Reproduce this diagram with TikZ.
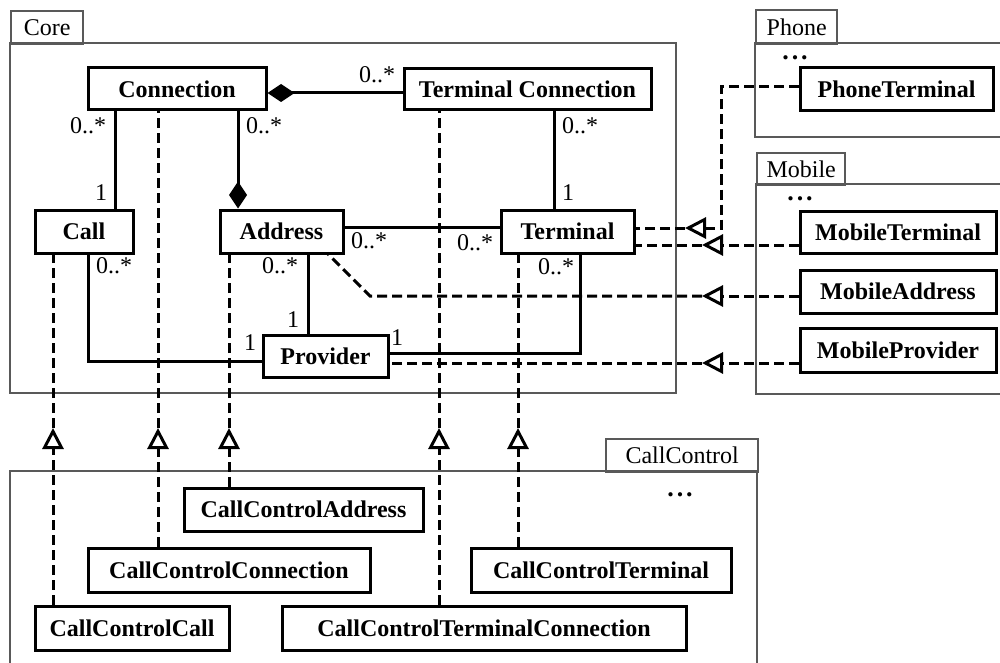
\documentclass[tikz,border=0pt]{standalone}
\usepackage{fontspec}
\setmainfont{Liberation Serif}
\usetikzlibrary{arrows.meta}
\begin{document}
\begin{tikzpicture}[x=1pt,y=-1pt,
  cls/.style={draw, line width=3pt, fill=white, inner sep=0pt, font=\fontsize{24}{28}\selectfont\bfseries},
  assoc/.style={line width=3pt},
  real/.style={line width=3pt, dash pattern=on 10pt off 5pt},
  tri/.style={-{Triangle[open,length=21pt,width=21pt,line width=3pt]}},
  comp/.style={-{Diamond[length=27pt,width=18pt]}},
  mult/.style={inner sep=0pt, font=\fontsize{24}{28}\selectfont},
  pkg/.style={draw=black!65, line width=2.4pt},
  pkgtab/.style={pkg, inner sep=0pt, anchor=north west, font=\fontsize{24}{28}\selectfont},
  dots/.style={inner sep=0pt, font=\fontsize{26}{28}\selectfont\bfseries}
]
\useasboundingbox (0,0) rectangle (1000,663);
\clip (0,0) rectangle (1000,663);

% packages
\draw[pkg] (10,43) rectangle (676,393);
\node[pkgtab, minimum width=72pt, minimum height=33pt] (tcore) at (10,10) {Core};
\draw[pkg] (755,43) rectangle (1010,137);
\node[pkgtab, minimum width=81pt, minimum height=34pt] (tphone) at (755,9) {Phone};
\draw[pkg] (756,184) rectangle (1010,394);
\node[pkgtab, minimum width=88pt, minimum height=32pt] (tmobile) at (756,152) {Mobile};
\draw[pkg] (10,471) rectangle (757,680);
\node[pkgtab, minimum width=152pt, minimum height=33pt] (tcc) at (605,438) {CallControl};

\node[dots] (d1) at (795,58) {.\kern3pt.\kern3pt.};
\node[dots] (d2) at (800,199) {.\kern3pt.\kern3pt.};
\node[dots] (d3) at (680,495) {.\kern3pt.\kern3pt.};

% classes
\node[cls, minimum width=178pt, minimum height=42pt] (conn) at (177,89) {Connection};
\node[cls, minimum width=247pt, minimum height=41pt] (tconn) at (527.5,89) {Terminal Connection};
\node[cls, minimum width=98pt, minimum height=43pt] (call) at (84,231.5) {Call};
\node[cls, minimum width=123pt, minimum height=43pt] (addr) at (281.5,231.5) {Address};
\node[cls, minimum width=133pt, minimum height=43pt] (term) at (567.5,231.5) {Terminal};
\node[cls, minimum width=125pt, minimum height=42pt] (prov) at (325.5,356) {Provider};
\node[cls, minimum width=193pt, minimum height=43pt] (pterm) at (896.5,89.5) {PhoneTerminal};
\node[cls, minimum width=196pt, minimum height=42pt] (mterm) at (898,232) {MobileTerminal};
\node[cls, minimum width=196pt, minimum height=43pt] (maddr) at (898,291.5) {MobileAddress};
\node[cls, minimum width=196pt, minimum height=44pt] (mprov) at (898,350) {MobileProvider};
\node[cls, minimum width=239pt, minimum height=43pt] (ccaddr) at (303.5,509.5) {CallControlAddress};
\node[cls, minimum width=282pt, minimum height=44pt] (ccconn) at (229,570) {CallControlConnection};
\node[cls, minimum width=194pt, minimum height=44pt] (cccall) at (132,628) {CallControlCall};
\node[cls, minimum width=404pt, minimum height=44pt] (cctc) at (484,628) {CallControlTerminalConnection};
\node[cls, minimum width=260pt, minimum height=44pt] (ccterm) at (601,570) {CallControlTerminal};

% helper coordinates
\coordinate (xa) at (115,0);
\coordinate (xb) at (238,0);
\coordinate (xc) at (554,0);
\coordinate (xd) at (88,361);
\coordinate (xe) at (308,0);
\coordinate (xf) at (580,353);
\coordinate (ya) at (0,227);

% associations
\draw[assoc, comp] ([yshift=-4pt]tconn.west) -- ([yshift=-4pt]conn.east);
\draw[assoc] (conn.south -| xa) -- (call.north -| xa);
\draw[assoc, comp] (conn.south -| xb) -- (addr.north -| xb);
\draw[assoc] (tconn.south -| xc) -- (term.north -| xc);
\draw[assoc] (addr.east |- ya) -- (term.west |- ya);
\draw[assoc] (call.south -| xd) -- (xd) -- (prov.west |- xd);
\draw[assoc] (addr.south -| xe) -- (prov.north -| xe);
\draw[assoc] (term.south -| xf) -- (xf) -- (prov.east |- xf);

% multiplicities
\node[mult] (m1) at (377,75) {0..*};
\node[mult] (m2) at (88,126) {0..*};
\node[mult] (m3) at (101,193) {1};
\node[mult] (m4) at (264,126) {0..*};
\node[mult] (m5) at (580,126) {0..*};
\node[mult] (m6) at (568,193) {1};
\node[mult] (m7) at (369,241) {0..*};
\node[mult] (m8) at (475,243) {0..*};
\node[mult] (m9) at (114,266) {0..*};
\node[mult] (m10) at (280,266) {0..*};
\node[mult] (m11) at (293,320) {1};
\node[mult] (m12) at (250,343) {1};
\node[mult] (m13) at (556,267) {0..*};
\node[mult] (m14) at (397,338) {1};

% realizations from CallControl (upward)
\coordinate (tA) at (53,428);
\coordinate (tB) at (158,428);
\coordinate (tC) at (229,428);
\coordinate (tD) at (439,428);
\coordinate (tE) at (518,428);
\draw[real, tri] (cccall.north -| tA) -- (tA);
\draw[real] (tA) -- (call.south -| tA);
\draw[real, tri] (ccconn.north -| tB) -- (tB);
\draw[real] (tB) -- (conn.south -| tB);
\draw[real, tri] (ccaddr.north -| tC) -- (tC);
\draw[real] (tC) -- (addr.south -| tC);
\draw[real, tri] (cctc.north -| tD) -- (tD);
\draw[real] (tD) -- (tconn.south -| tD);
\draw[real, tri] (ccterm.north -| tE) -- (tE);
\draw[real] (tE) -- (term.south -| tE);

% realizations from Phone / Mobile (leftward)
\coordinate (pa) at (721,87);
\coordinate (tF) at (685,228);
\coordinate (tG) at (702,245);
\coordinate (tH) at (702,296);
\coordinate (tI) at (702,363);
\coordinate (bend) at (370,296);
\coordinate (aend) at (327,253);
\draw[real, tri] (pterm.west |- pa) -- (pa) -- (pa |- tF) -- (tF);
\draw[real] (tF) -- (term.east |- tF);
\draw[real, tri] (mterm.west |- tG) -- (tG);
\draw[real] (tG) -- (term.east |- tG);
\draw[real, tri] (maddr.west |- tH) -- (tH);
\draw[real] (tH) -- (bend) -- (aend);
\draw[real, tri] (mprov.west |- tI) -- (tI);
\draw[real] (tI) -- (prov.east |- tI);
\end{tikzpicture}
\end{document}
